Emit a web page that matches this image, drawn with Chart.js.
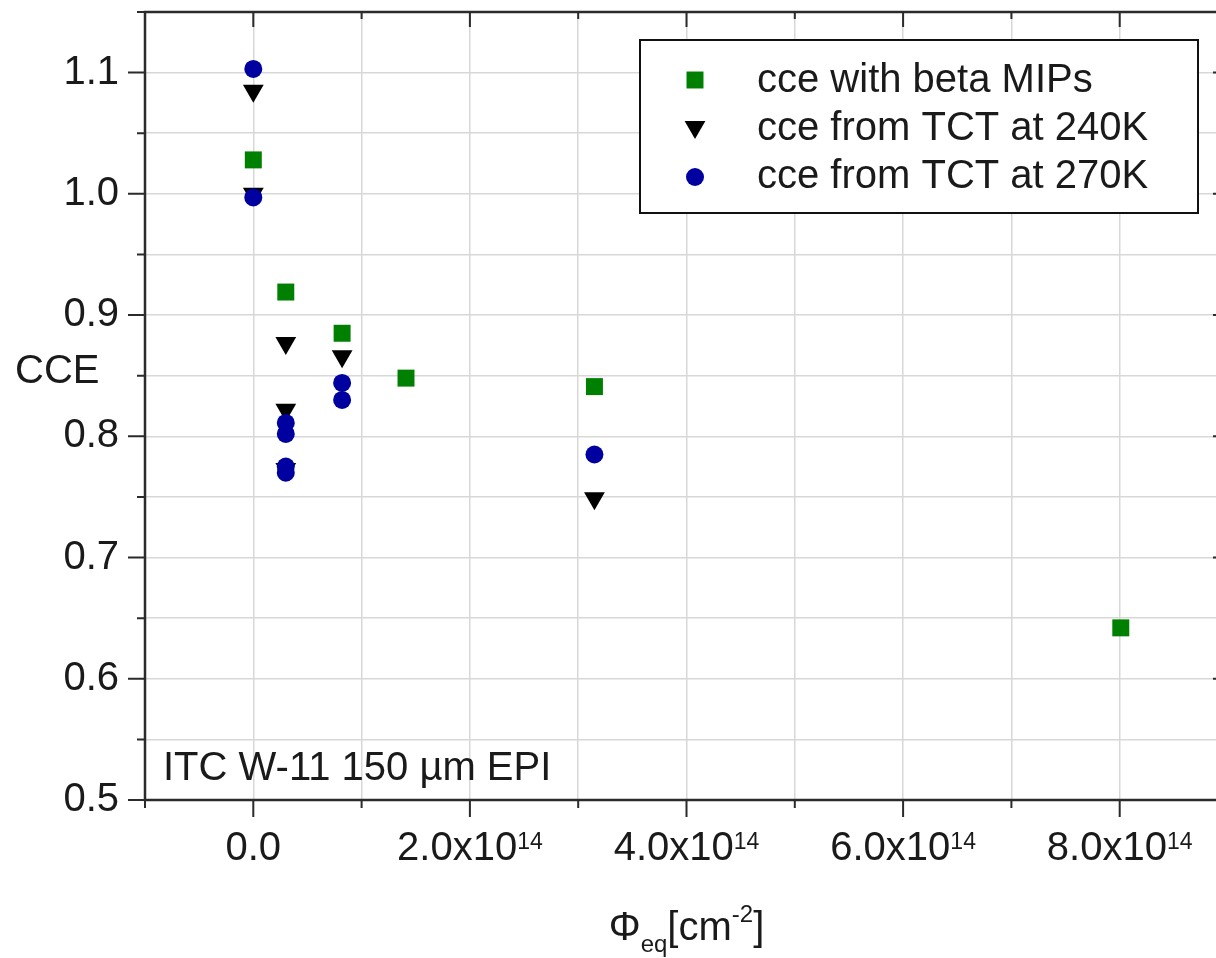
<!DOCTYPE html>
<html><head><meta charset="utf-8">
<script src="https://cdn.jsdelivr.net/npm/chart.js@4.4.0/dist/chart.umd.min.js"></script>
<style>
html,body{margin:0;padding:0;overflow:hidden;background:#fff;}
#wrap{width:1240px;height:958px;position:relative;}
canvas{display:block;}
</style></head><body>
<div id="wrap"><canvas id="c" width="1240" height="958"></canvas></div>
<script>
// ---- data ----
const betaX = [0, 0.30e14, 0.82e14, 1.41e14, 3.15e14, 8.01e14];
const betaY = [1.028, 0.919, 0.885, 0.848, 0.841, 0.642];

const tct240X = [0, 0, 0.30e14, 0.30e14, 0.30e14, 0.82e14, 3.15e14];
const tct240Y = [1.085, 1.000, 0.877, 0.822, 0.773, 0.866, 0.749];

const tct270X = [0, 0, 0.30e14, 0.30e14, 0.30e14, 0.30e14, 0.82e14, 0.82e14, 3.15e14];
const tct270Y = [1.103, 0.997, 0.811, 0.802, 0.775, 0.770, 0.844, 0.830, 0.785];

const seriesLabels = ['cce with beta MIPs', 'cce from TCT at 240K', 'cce from TCT at 270K'];

const xTickValues = [0, 2e14, 4e14, 6e14, 8e14];
const xTickBase = ['0.0', '2.0x10', '4.0x10', '6.0x10', '8.0x10'];
const xTickExp = ['', '14', '14', '14', '14'];

const yAxisLabel = 'CCE';
const xTitleParts = ['\u03A6', 'eq', '[cm', '-2', ']'];
const annotation = 'ITC W-11 150 \u00B5m EPI';

// ---- styling ----
const FONT = "'Liberation Sans', Arial, Helvetica, sans-serif";
const TEXT = '#1a1a1a';
const GREEN = '#008000';
const BLUE = '#0000a0';
const BLACK = '#000000';
const GRID = '#d8d8d8';
const AXIS = '#2b2b2b';

function pts(xs, ys){ return xs.map((x,i)=>({x:x, y:ys[i]})); }

function marker(ctx, style, rot, x, y, r, color){
  ctx.fillStyle = color;
  ctx.beginPath();
  if (style === 'rect') {
    const s = r*Math.SQRT1_2;
    ctx.rect(x-s, y-s, 2*s, 2*s);
  } else if (style === 'triangle') {
    const a0 = (rot||0)*Math.PI/180;
    for (let k=0;k<3;k++){
      const a = a0 + k*2*Math.PI/3;
      const px = x + Math.sin(a)*r, py = y - Math.cos(a)*r;
      if(k===0) ctx.moveTo(px,py); else ctx.lineTo(px,py);
    }
    ctx.closePath();
  } else {
    ctx.arc(x, y, r, 0, Math.PI*2);
  }
  ctx.fill();
}

const decor = {
  id: 'decor',
  afterDatasetsDraw(chart){
    const {ctx, chartArea:a, scales:{x, y}} = chart;
    ctx.save();
    // frame
    ctx.strokeStyle = AXIS; ctx.lineWidth = 2.5;
    ctx.strokeRect(a.left, a.top, a.right-a.left, a.bottom-a.top);
    // ticks
    ctx.lineWidth = 2; ctx.beginPath();
    x.ticks.forEach(t => {
      const px = x.getPixelForValue(t.value);
      const major = Math.round(t.value/1e14) % 2 === 0;
      ctx.moveTo(px, a.bottom); ctx.lineTo(px, a.bottom + (major?17:8));
      ctx.moveTo(px, a.top); ctx.lineTo(px, a.top + (major?15:7));
    });
    y.ticks.forEach(t => {
      const py = y.getPixelForValue(t.value);
      const major = Math.round(t.value*100) % 10 === 0;
      ctx.moveTo(a.left, py); ctx.lineTo(a.left - (major?17:8), py);
      ctx.moveTo(a.right, py); ctx.lineTo(a.right - (major?15:7), py);
    });
    ctx.stroke();

    ctx.fillStyle = TEXT;
    ctx.textBaseline = 'alphabetic';
    ctx.textAlign = 'left';
    // x tick labels with superscripts
    xTickValues.forEach((v,i) => {
      const px = x.getPixelForValue(v);
      ctx.font = '40px ' + FONT;
      const wb = ctx.measureText(xTickBase[i]).width;
      ctx.font = '23px ' + FONT;
      const ws = xTickExp[i] ? ctx.measureText(xTickExp[i]).width : 0;
      const x0 = px - (wb+ws)/2;
      ctx.font = '40px ' + FONT;
      ctx.fillText(xTickBase[i], x0, 860);
      if (xTickExp[i]) { ctx.font = '23px ' + FONT; ctx.fillText(xTickExp[i], x0+wb, 849); }
    });

    // y axis label (horizontal)
    ctx.font = '40px ' + FONT;
    ctx.fillText(yAxisLabel, 15, 383);

    // annotation
    ctx.fillText(annotation, 163, 780);

    // x axis title
    const big = '40px ' + FONT, small = '24px ' + FONT;
    const fonts = [big, small, big, small, big];
    const dy = [0, 12, 0, -18, 0];
    let widths = xTitleParts.map((s,i)=>{ ctx.font = fonts[i]; return ctx.measureText(s).width; });
    const total = widths.reduce((p,c)=>p+c,0);
    let cx = (a.left + a.right)/2 - total/2;
    xTitleParts.forEach((s,i)=>{ ctx.font = fonts[i]; ctx.fillText(s, cx, 940 + dy[i]); cx += widths[i]; });

    // legend
    const bx = 640, by = 40, bw = 558, bh = 173;
    ctx.fillStyle = '#fff';
    ctx.fillRect(bx, by, bw, bh);
    ctx.strokeStyle = '#111'; ctx.lineWidth = 2;
    ctx.strokeRect(bx, by, bw, bh);
    const rowsMarkerY = [80, 127, 177];
    const rowsTextY = [92, 140, 188];
    chart.data.datasets.forEach((ds, i) => {
      marker(ctx, ds.pointStyle, ds.pointRotation, 695, rowsMarkerY[i], ds.pointRadius, ds.pointBackgroundColor);
      ctx.fillStyle = TEXT; ctx.font = '40px ' + FONT;
      ctx.fillText(ds.label, 757, rowsTextY[i]);
    });
    ctx.restore();
  }
};

new Chart(document.getElementById('c'), {
  type: 'scatter',
  data: { datasets: [
    { label: seriesLabels[0], data: pts(betaX, betaY), pointStyle: 'rect', pointRadius: 12, pointRotation: 0,
      backgroundColor: GREEN, pointBackgroundColor: GREEN, borderColor: GREEN, pointBorderWidth: 0, order: 3 },
    { label: seriesLabels[1], data: pts(tct240X, tct240Y), pointStyle: 'triangle', pointRadius: 12, pointRotation: 180,
      backgroundColor: BLACK, pointBackgroundColor: BLACK, borderColor: BLACK, pointBorderWidth: 0, order: 2 },
    { label: seriesLabels[2], data: pts(tct270X, tct270Y), pointStyle: 'circle', pointRadius: 9, pointRotation: 0,
      backgroundColor: BLUE, pointBackgroundColor: BLUE, borderColor: BLUE, pointBorderWidth: 0, order: 1 }
  ]},
  options: {
    responsive: false, animation: false, devicePixelRatio: 1,
    layout: { padding: { top: 10, right: 12, left: 0, bottom: 0 } },
    plugins: { legend: { display: false }, tooltip: { enabled: false } },
    scales: {
      x: {
        type: 'linear', min: -1e14, max: 9e14,
        ticks: { display: false, stepSize: 1e14, autoSkip: false, maxTicksLimit: 20 },
        grid: { color: GRID, lineWidth: 1.5, drawTicks: false },
        border: { display: false },
        afterFit(s){ s.height = 158; s.paddingLeft = 0; s.paddingRight = 0; s.paddingTop = 0; s.paddingBottom = 0; }
      },
      y: {
        type: 'linear', min: 0.5, max: 1.15,
        ticks: {
          stepSize: 0.05, autoSkip: false, maxTicksLimit: 20, padding: 26, color: TEXT,
          font: { family: FONT, size: 40 },
          callback: (v) => { const k = Math.round(v*100); return k % 10 === 0 ? (k/100).toFixed(1) : ''; }
        },
        grid: { color: GRID, lineWidth: 1.5, drawTicks: false },
        border: { display: false },
        afterFit(s){ s.width = 145; s.paddingTop = 0; s.paddingBottom = 0; s.paddingLeft = 0; s.paddingRight = 0; }
      }
    }
  },
  plugins: [decor]
});
</script>
</body></html>
